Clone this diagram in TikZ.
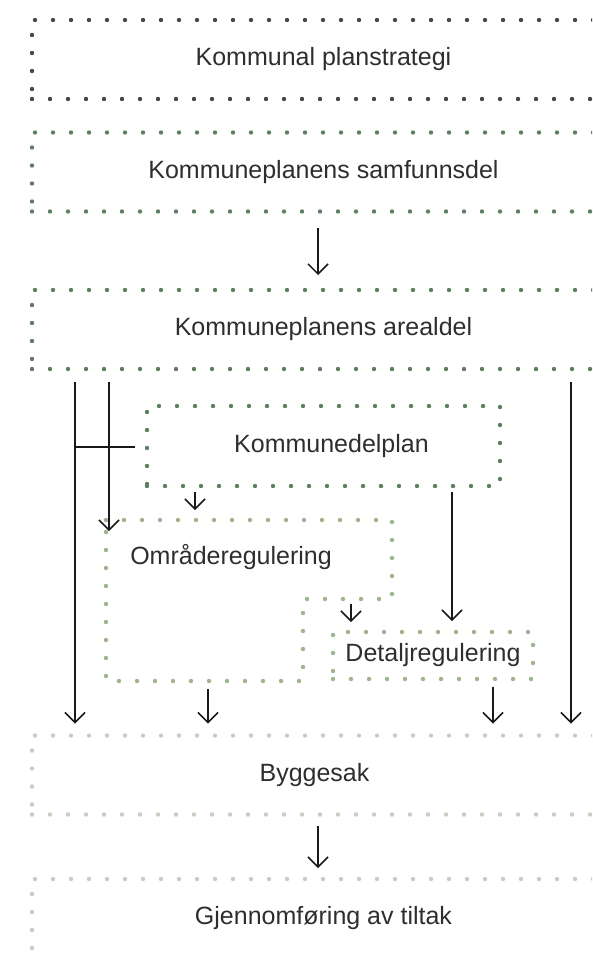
\documentclass[tikz,border=0pt]{standalone}
\usepackage{fontspec}
\setmainfont{Liberation Sans}
\usetikzlibrary{arrows.meta}
\definecolor{dotdark}{HTML}{3F4C3F}
\definecolor{dotmid}{HTML}{5E7E5F}
\definecolor{dotlight}{HTML}{9DB68F}
\definecolor{dotpale}{HTML}{C6CEBE}
\definecolor{txt}{HTML}{2E2E2E}
\begin{document}
\begin{tikzpicture}[x=1pt,y=-1pt,
  every node/.style={outer sep=0pt},
  dotborder/.style={line width=4.4pt, line cap=round, dash pattern=on 0pt off 18pt},
  label text/.style={font=\fontsize{25}{30}\selectfont, text=txt},
  planbox/.style={draw=#1, dotborder, rectangle, inner sep=0pt, outer sep=0pt,
    minimum width=583pt, minimum height=79pt, label text},
  arr/.style={-{Straight Barb[length=10pt,width=20pt,line width=1.5pt]}, line width=1.5pt, black!90},
  link/.style={line width=1.5pt, black!90}]
\clip (0,0) rectangle (592,955);

% main planning levels (boxes run past the right edge)
\node[planbox=dotdark] (strat) at (323.5,59.5) {Kommunal planstrategi};
\node[planbox=dotmid]  (samf)  at (323.5,172)  {Kommuneplanens samfunnsdel};
\node[planbox=dotmid]  (areal) at (323.5,329.5){Kommuneplanens arealdel};
\node[planbox=dotpale] (bygg)  at (323.5,775)  {\hspace*{-18pt}Byggesak};
\node[planbox=dotpale] (gjen)  at (323.5,918.5){Gjennomføring av tiltak};

% sub plans
\node[draw=dotmid, dotborder, rectangle, inner sep=0pt, outer sep=0pt, minimum width=353pt,
  minimum height=80pt, label text] (kdp) at (323.5,446) {\hspace{16pt}Kommunedelplan};

\node[rectangle, inner sep=0pt, outer sep=0pt, minimum width=286pt, minimum height=161pt] (omr) at (249,600.5) {};
\draw[dotlight, dotborder] (omr.north west) -- (omr.north east) -- ([yshift=-79pt]omr.north east)
  -- ([xshift=197pt,yshift=-79pt]omr.north west) -- ([xshift=197pt]omr.south west)
  -- (omr.south west) -- cycle;
\node[label text] (omrtext) at (231,557) {Områderegulering};

\node[draw=dotlight, dotborder, rectangle, inner sep=0pt, outer sep=0pt, minimum width=200pt,
  minimum height=47pt, label text] (detalj) at (433,655.5) {Detaljregulering};

% connectors
\draw[arr] ([xshift=-5.5pt,yshift=-16pt]samf.south) -- ([xshift=-5.5pt,yshift=15pt]areal.north);
\draw[arr] ([xshift=43pt,yshift=-13pt]areal.south west) -- ([xshift=43pt,yshift=12pt]bygg.north west);
\draw[arr] ([xshift=77pt,yshift=-13pt]areal.south west) -- ([xshift=3pt,yshift=-11pt]omr.north west);
\draw[arr] ([xshift=-44pt,yshift=-13pt]areal.south east) -- ([xshift=-44pt,yshift=12pt]bygg.north east);
\draw[link] ([xshift=-72pt,yshift=-1pt]kdp.west) -- ([xshift=-12pt,yshift=-1pt]kdp.west);
\draw[arr] ([xshift=48pt,yshift=-6pt]kdp.south west) -- ([xshift=89pt,yshift=10pt]omr.north west);
\draw[arr] ([xshift=-48pt,yshift=-6pt]kdp.south east) -- ([xshift=119pt,yshift=11pt]detalj.north west);
\draw[arr] ([xshift=18pt,yshift=28pt]detalj.north west) -- ([xshift=18pt,yshift=10pt]detalj.north west);
\draw[arr] ([xshift=102pt,yshift=-8pt]omr.south west) -- ([xshift=176pt,yshift=12pt]bygg.north west);
\draw[arr] ([xshift=-40pt,yshift=-8pt]detalj.south east) -- ([xshift=-122pt,yshift=12pt]bygg.north east);
\draw[arr] ([xshift=-5.5pt,yshift=-11pt]bygg.south) -- ([xshift=-5.5pt,yshift=11pt]gjen.north);
\end{tikzpicture}
\end{document}
